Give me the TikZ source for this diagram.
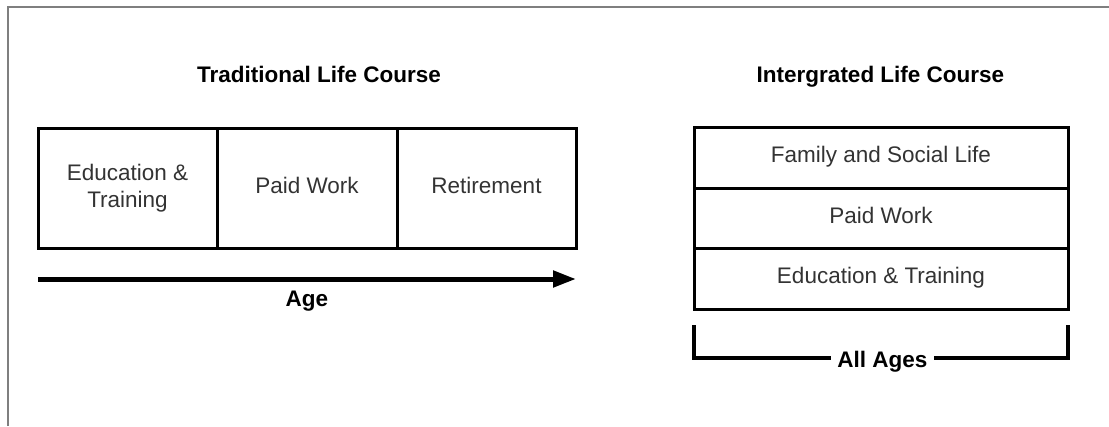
\documentclass[tikz,border=0pt]{standalone}
\usepackage{fontspec}
\setmainfont{Liberation Sans}
\usetikzlibrary{arrows.meta}
\definecolor{txt}{HTML}{333333}
\definecolor{frame}{HTML}{7F7F7F}
\begin{document}
\begin{tikzpicture}[x=1pt,y=-1pt,
  every node/.style={font=\fontsize{22.5}{27.5}\selectfont},
  cell/.style={draw=black, line width=3pt, rectangle, inner sep=0pt, text=txt, align=center},
  oneline/.style={cell, text height=16pt, text depth=6pt},
  ttl/.style={font=\fontsize{22.5}{27.5}\selectfont\bfseries, text=black, inner sep=0pt, anchor=base},
  heavy/.style={line width=5pt, draw=black}]
\useasboundingbox (0,0) rectangle (1109,426);
% frame
\draw[frame, line width=2pt] (8,426) -- (8,7) -- (1109,7);
% titles
\node[ttl] (t1) at (319,82) {Traditional Life Course};
\node[ttl] (t2) at (880.5,82) {Intergrated Life Course};
% traditional cells
\node[cell, minimum width=179pt, minimum height=120pt] (edu) at (127.5,188) {Education \&\\Training};
\node[oneline, minimum width=180pt, minimum height=120pt] (work) at (307,188) {Paid Work};
\node[oneline, minimum width=179pt, minimum height=120pt] (ret) at (486.5,188) {Retirement};
% age arrow
\coordinate (a0) at (38,279);
\coordinate (a1) at (576,279);
\draw[heavy, -{Triangle[length=23pt,width=16pt]}] (a0) -- (a1);
\node[ttl] (age) at (307,306) {Age};
% integrated cells
\node[oneline, minimum width=374pt, minimum height=61pt] (fam) at (881,157.5) {Family and Social Life};
\node[oneline, minimum width=374pt, minimum height=60pt] (work2) at (881,218) {Paid Work};
\node[oneline, minimum width=374pt, minimum height=61pt] (edu2) at (881,278.5) {Education \& Training};
% all ages bracket
\node[ttl, inner xsep=6pt] (all) at (882.5,367) {All Ages};
\coordinate (bl) at (694,325);
\coordinate (br) at (1068,325);
\coordinate (bm) at (0,358);
\draw[line width=4.5pt, line join=miter] (bl) |- (all.west |- bm);
\draw[line width=4.5pt, line join=miter] (br) |- (all.east |- bm);
\end{tikzpicture}
\end{document}
